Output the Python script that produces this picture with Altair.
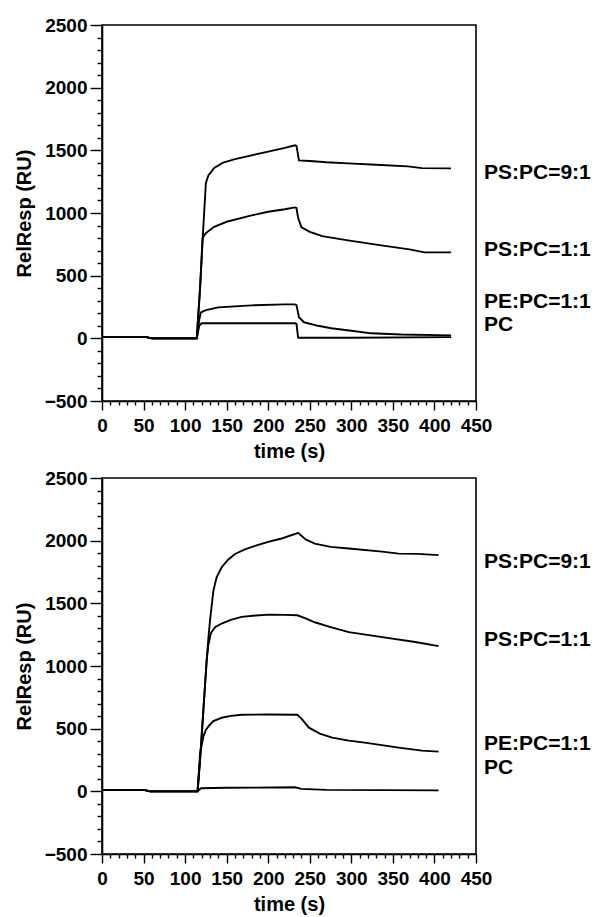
import altair as alt
import pandas as pd

# ---------------- data ----------------
SERIES = ["PS:PC=9:1", "PS:PC=1:1", "PE:PC=1:1", "PC"]

# Top panel
top_t_ps91 = [0, 52, 60, 114, 118, 122, 125, 128, 135, 145, 160, 180, 200, 220, 232, 234, 237, 250, 270, 296, 330, 368, 385, 420]
top_v_ps91 = [12, 12, 0, 0, 400, 900, 1240, 1300, 1360, 1400, 1430, 1460, 1490, 1520, 1540, 1535, 1420, 1415, 1405, 1396, 1385, 1372, 1358, 1356]

top_t_ps11 = [0, 52, 60, 114, 118, 121, 125, 135, 150, 180, 200, 220, 232, 234, 236, 240, 250, 265, 296, 336, 370, 388, 420]
top_v_ps11 = [12, 12, 0, 0, 400, 800, 840, 890, 930, 981, 1010, 1030, 1045, 1040, 960, 886, 850, 815, 782, 742, 710, 686, 686]

top_t_pe11 = [0, 52, 60, 114, 117, 119, 125, 140, 180, 220, 232, 234, 237, 243, 260, 276, 300, 324, 360, 420]
top_v_pe11 = [12, 12, 0, 0, 150, 207, 225, 247, 263, 271, 271, 265, 168, 128, 100, 80, 60, 40, 30, 24]

top_t_pc = [0, 52, 60, 114, 117, 120, 232, 234, 236, 300, 420]
top_v_pc = [12, 12, 0, 0, 100, 120, 120, 115, 5, 5, 10]

# Bottom panel
bot_t_ps91 = [0, 50, 58, 115, 118, 120, 122, 124, 126, 128, 130, 134, 138, 144, 152, 160, 172, 185, 200, 215, 232, 236, 245, 256, 275, 297, 337, 357, 380, 405]
bot_v_ps91 = [12, 12, 0, 0, 250, 450, 650, 850, 1050, 1220, 1365, 1600, 1710, 1788, 1850, 1894, 1930, 1960, 1990, 2015, 2053, 2063, 2010, 1976, 1950, 1937, 1913, 1897, 1895, 1885]

bot_t_ps11 = [0, 50, 58, 115, 118, 120, 122, 124, 126, 128, 131, 136, 144, 155, 168, 185, 201, 220, 235, 245, 256, 275, 297, 337, 377, 405]
bot_v_ps11 = [12, 12, 0, 0, 250, 450, 650, 850, 1050, 1170, 1262, 1310, 1339, 1368, 1392, 1403, 1410, 1408, 1405, 1380, 1349, 1310, 1270, 1230, 1191, 1159]

bot_t_pe11 = [0, 50, 58, 115, 118, 122, 125, 128, 134, 144, 155, 168, 200, 235, 240, 249, 262, 277, 297, 316, 357, 385, 405]
bot_v_pe11 = [12, 12, 0, 0, 300, 439, 490, 518, 560, 587, 602, 611, 613, 611, 580, 508, 460, 429, 405, 389, 349, 325, 317]

bot_t_pc = [0, 50, 58, 115, 119, 150, 232, 240, 270, 405]
bot_v_pc = [12, 12, 0, 0, 25, 28, 32, 20, 12, 8]

# label positions (RU) at the right of each panel
top_label_y = [1320, 702, 287, 104]
bot_label_y = [1828, 1206, 381, 183]

X_DOMAIN = [0, 450]
Y_DOMAIN = [-500, 2500]
X_TICKS = list(range(0, 451, 10))
Y_TICKS = list(range(-500, 2501, 100))

FONT = "Liberation Sans"


def series_frame(pairs):
    rows = []
    for name, (ts, vs) in zip(SERIES, pairs):
        for t, v in zip(ts, vs):
            rows.append({"series": name, "t": t, "v": v})
    return pd.DataFrame(rows)


top_df = series_frame([(top_t_ps91, top_v_ps91), (top_t_ps11, top_v_ps11),
                       (top_t_pe11, top_v_pe11), (top_t_pc, top_v_pc)])
bot_df = series_frame([(bot_t_ps91, bot_v_ps91), (bot_t_ps11, bot_v_ps11),
                       (bot_t_pe11, bot_v_pe11), (bot_t_pc, bot_v_pc)])

W, H = 374, 376

AX_COMMON = dict(
    labelFont=FONT, labelFontSize=19, labelFontWeight="bold", labelColor="black",
    titleFont=FONT, titleFontSize=20, titleFontWeight="bold", titleColor="black",
    domainColor="black", domainWidth=1.6, tickColor="black", tickWidth=1.4,
    labelOverlap=False, grid=False, format="d",
)

x_axis = alt.Axis(
    values=X_TICKS,
    labelExpr="datum.value % 50 === 0 ? datum.label : ''",
    tickSize={"condition": {"test": "datum.value % 50 === 0", "value": 9}, "value": 4},
    labelFlush=False, labelPadding=6, titlePadding=6,
    **AX_COMMON,
)
y_axis = alt.Axis(
    values=Y_TICKS,
    labelExpr="datum.value % 500 === 0 ? datum.label : ''",
    tickSize={"condition": {"test": "datum.value % 500 === 0", "value": 12}, "value": 5},
    labelPadding=3, titlePadding=10,
    **AX_COMMON,
)


def panel(df, label_y):
    lines = alt.Chart(df).mark_line(color="black", strokeWidth=1.9).encode(
        x=alt.X("t:Q", title="time (s)", scale=alt.Scale(domain=X_DOMAIN, nice=False), axis=x_axis),
        y=alt.Y("v:Q", title="RelResp (RU)", scale=alt.Scale(domain=Y_DOMAIN, nice=False), axis=y_axis),
        detail="series:N",
        order="t:Q",
    )
    lab_df = pd.DataFrame({"label": SERIES, "ly": label_y})
    labels = alt.Chart(lab_df).mark_text(
        align="left", baseline="middle", fontSize=21, fontWeight="bold", font=FONT, color="black"
    ).encode(
        x=alt.value(W + 8),
        y=alt.Y("ly:Q", title="RelResp (RU)", scale=alt.Scale(domain=Y_DOMAIN, nice=False), axis=y_axis),
        text="label:N",
    )
    return alt.layer(lines, labels).properties(width=W, height=H)


chart = alt.vconcat(
    panel(top_df, top_label_y), panel(bot_df, bot_label_y), spacing=6
).properties(
    padding={"left": 13, "top": 15, "right": 0, "bottom": 0},
    background="white",
).configure_view(
    stroke="black", strokeWidth=1.6
)

chart.save("out.html", embed_options={"renderer": "svg", "actions": False})
